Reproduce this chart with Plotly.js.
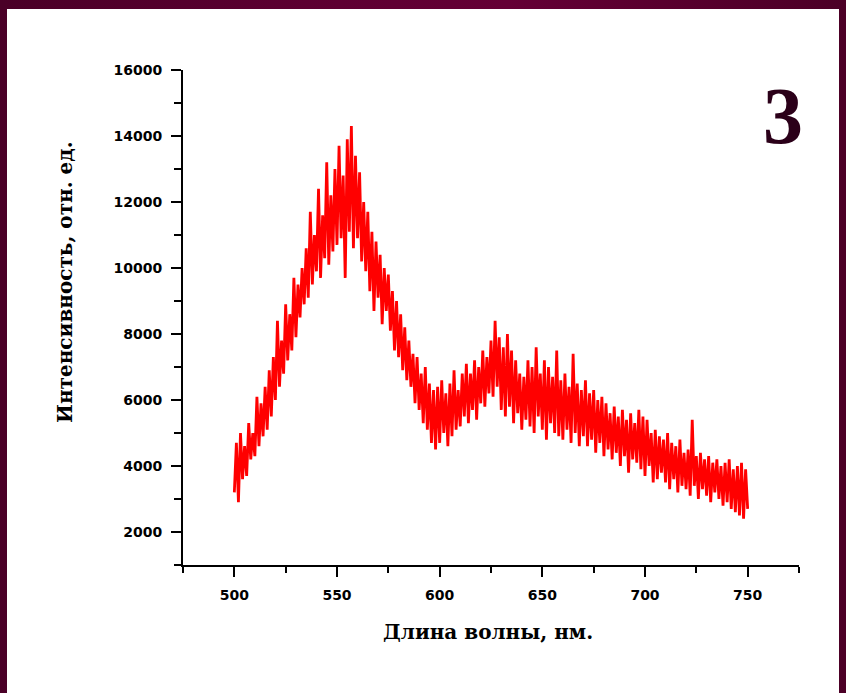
<!DOCTYPE html>
<html>
<head>
<meta charset="utf-8">
<script src="https://cdn.plot.ly/plotly-3.0.1.min.js"></script>
<style>
  html, body { margin: 0; padding: 0; }
  body {
    width: 846px; height: 693px; overflow: hidden; position: relative;
    background: linear-gradient(90deg, #4a0027 0%, #5e0032 40%, #640035 60%, #4c0026 100%);
  }
  #chart { position: absolute; left: 7px; top: 9px; width: 832px; height: 684px; background: #fff; }
</style>
</head>
<body>
<div id="chart"></div>
<script>
// Wavelength (nm), 1 nm step from 500 to 750
const wavelengthStart = 500;
const intensity = [
  3200, 4700, 2900, 5000, 3600,
  4600, 3700, 5300, 4200, 5000,
  4300, 6100, 4600, 5900, 4900,
  6400, 5100, 6900, 5500, 7300,
  6000, 8400, 6400, 7800, 6800,
  8900, 7200, 8600, 7500, 9700,
  7900, 9500, 8500, 10000, 8900,
  10600, 9100, 11700, 9500, 11000,
  9900, 12400, 9700, 11600, 10300,
  13200, 10100, 12200, 10500, 13000,
  10700, 13700, 10900, 12800, 9700,
  13900, 11100, 14300, 10600, 13400,
  10900, 12900, 10200, 12000, 9900,
  11700, 9300, 11100, 8700, 10800,
  9100, 10400, 8300, 10000, 8700,
  9800, 8100, 9300, 7500, 9000,
  7300, 8600, 6900, 8200, 6600,
  7800, 6400, 7400, 5900, 7300,
  5700, 6800, 5300, 7000, 5100,
  6500, 4700, 6300, 4500, 6400,
  4700, 6600, 5000, 6200, 4600,
  6500, 4900, 6900, 5100, 6300,
  5200, 6800, 5500, 7100, 5300,
  6800, 5700, 7200, 5400, 7000,
  5900, 7500, 5800, 7300, 6200,
  7800, 6100, 8400, 6400, 7900,
  5700, 7600, 5500, 8000, 5800,
  7500, 5300, 7200, 5600, 6800,
  5100, 6700, 5400, 7200, 5200,
  7000, 5000, 7600, 5500, 6800,
  5100, 7200, 4800, 7000, 5300,
  6700, 5000, 7500, 4900, 6600,
  4800, 6800, 5100, 6400, 4700,
  7400, 5000, 6500, 4600, 6300,
  4900, 6600, 4600, 6200, 4800,
  6300, 4400, 6000, 4700, 6100,
  4300, 5900, 4500, 5600, 4200,
  5800, 4400, 5500, 4000, 5700,
  4300, 5400, 3800, 5600, 4200,
  5300, 4100, 5700, 3900, 5500,
  3700, 5400, 4000, 5000, 3500,
  5100, 3600, 4900, 3800, 4800,
  3500, 5000, 3300, 4700, 3600,
  4600, 3200, 4800, 3400, 4400,
  3300, 4500, 3100, 5400, 3400,
  4300, 3000, 4400, 3300, 4200,
  3100, 4300, 2900, 4100, 3200,
  4200, 3000, 4000, 2800, 4100,
  2900, 4200, 2700, 3900, 2600,
  4000, 2500, 4100, 2400, 3900,
  2700
];
const wavelength = intensity.map((_, i) => wavelengthStart + i);

const xTickVals = [500, 550, 600, 650, 700, 750];
const xTickText = ['500', '550', '600', '650', '700', '750'];
const yTickVals = [2000, 4000, 6000, 8000, 10000, 12000, 14000, 16000];
const yTickText = ['2000', '4000', '6000', '8000', '10000', '12000', '14000', '16000'];

const xTitle = 'Длина волны, нм.';
const yTitle = 'Интенсивность, отн. ед.';
const panelLabel = '3';

const tickFont = { family: 'DejaVu Sans', size: 14, color: '#000' };
const titleFont = { family: 'DejaVu Serif', size: 20, color: '#000', weight: 'bold' };

const trace = {
  x: wavelength, y: intensity, type: 'scatter', mode: 'lines',
  line: { color: '#ff0000', width: 2.8 }, hoverinfo: 'skip'
};

const layout = {
  width: 832, height: 684,
  margin: { l: 176, r: 40, t: 61, b: 128 },
  paper_bgcolor: '#ffffff', plot_bgcolor: '#ffffff',
  showlegend: false,
  xaxis: {
    range: [475, 775], showgrid: false, zeroline: false,
    showline: true, linecolor: '#000', linewidth: 2,
    ticks: 'outside', ticklen: 10, tickwidth: 2, tickcolor: '#000',
    tickmode: 'array', tickvals: xTickVals, ticktext: xTickText,
    tickfont: Object.assign({ weight: 'bold' }, tickFont),
    ticklabelstandoff: 6,
    minor: { dtick: 25, tick0: 475, ticks: 'outside', ticklen: 6, tickwidth: 2, tickcolor: '#000', showgrid: false }
  },
  yaxis: {
    range: [1000, 16000], showgrid: false, zeroline: false,
    showline: true, linecolor: '#000', linewidth: 2,
    ticks: 'outside', ticklen: 10, tickwidth: 2, tickcolor: '#000',
    tickmode: 'array', tickvals: yTickVals, ticktext: yTickText,
    tickfont: Object.assign({ weight: 'bold' }, tickFont),
    ticklabelstandoff: 6,
    minor: { dtick: 1000, tick0: 1000, ticks: 'outside', ticklen: 7, tickwidth: 2, tickcolor: '#000', showgrid: false }
  },
  annotations: [
    { text: xTitle, xref: 'paper', yref: 'paper', x: 0.4955, y: -0.1354,
      xanchor: 'center', yanchor: 'middle', showarrow: false, font: titleFont },
    { text: yTitle, xref: 'paper', yref: 'paper', x: -0.1917, y: 0.5717,
      xanchor: 'center', yanchor: 'middle', showarrow: false, textangle: -90, font: titleFont },
    { text: panelLabel, xref: 'paper', yref: 'paper', x: 0.9747, y: 0.907,
      xanchor: 'center', yanchor: 'middle', showarrow: false,
      font: { family: 'Liberation Serif', size: 80, color: '#2b0019', weight: 'bold' } }
  ]
};

Plotly.newPlot('chart', [trace], layout, { staticPlot: true, displayModeBar: false });
</script>
</body>
</html>
